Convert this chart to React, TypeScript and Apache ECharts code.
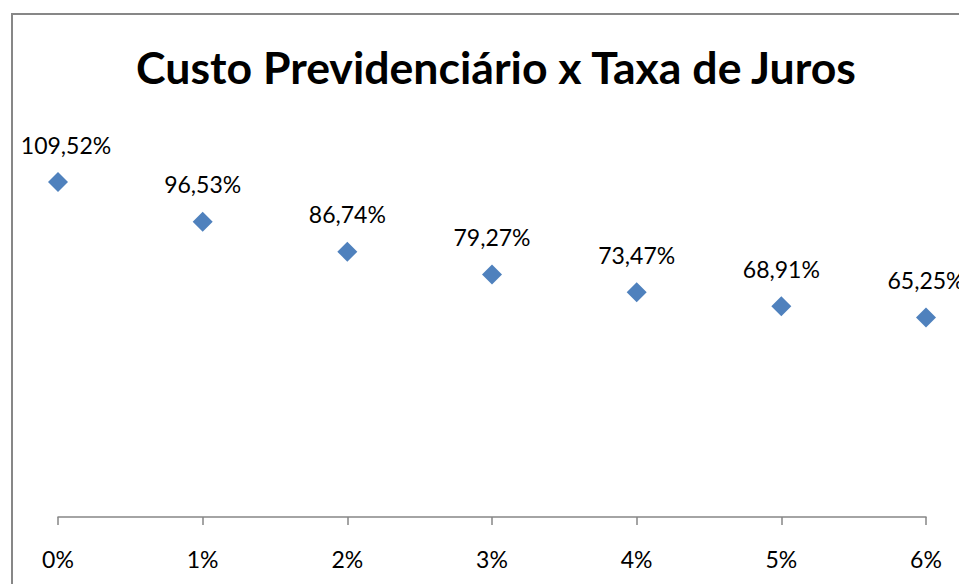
import React, { useEffect, useRef } from "react";
import * as echarts from "echarts";

const title = "Custo Previdenciário x Taxa de Juros";
const rates = [0, 1, 2, 3, 4, 5, 6];
const costs = [109.52, 96.53, 86.74, 79.27, 73.47, 68.91, 65.25];

const fmt = (v: number) => v.toFixed(2).replace(".", ",") + "%";

export default function App() {
  const ref = useRef<HTMLDivElement>(null);
  useEffect(() => {
    if (!ref.current) return;
    const chart = echarts.init(ref.current, undefined, { renderer: "svg" });
    chart.setOption({
      animation: false,
      backgroundColor: "#ffffff",
      textStyle: { fontFamily: "Lato" },
      title: {
        text: title,
        left: 491,
        textAlign: "center",
        top: 39,
        textStyle: { fontFamily: "Lato", fontWeight: "bold", fontSize: 44.6, color: "#000" },
      },
      graphic: [
        {
          type: "rect",
          shape: { x: 12, y: 14, width: 1100, height: 800 },
          style: { fill: "none", stroke: "#878787", lineWidth: 2 },
          silent: true,
        },
      ],
      grid: { left: 58, right: 33, top: 150, bottom: 67 },
      xAxis: {
        type: "value",
        min: 0,
        max: 6,
        interval: 1,
        splitLine: { show: false },
        axisLine: { show: true, lineStyle: { color: "#868686", width: 1.5 } },
        axisTick: { show: true, length: 8, lineStyle: { color: "#868686", width: 1.5 } },
        axisLabel: {
          margin: 30,
          fontFamily: "Lato",
          fontSize: 23,
          color: "#000",
          formatter: (v: number) => v + "%",
        },
      },
      yAxis: {
        type: "value",
        min: 0,
        max: 120,
        show: false,
        splitLine: { show: false },
      },
      series: [
        {
          type: "scatter",
          symbol: "diamond",
          symbolSize: 20,
          itemStyle: { color: "#4F81BD", opacity: 1 },
          data: rates.map((r, i) =>
            i === 0
              ? { value: [r, costs[i]], label: { offset: [8, 0] } }
              : { value: [r, costs[i]] }
          ),
          label: {
            show: true,
            position: "top",
            distance: 16,
            fontFamily: "Lato",
            fontSize: 23,
            color: "#000",
            formatter: (p: any) => fmt(p.value[1]),
          },
        },
      ],
    });
    return () => chart.dispose();
  }, []);
  return (
    <div
      ref={ref}
      style={{ position: "fixed", left: 0, top: 0, width: 959, height: 584 }}
    />
  );
}
